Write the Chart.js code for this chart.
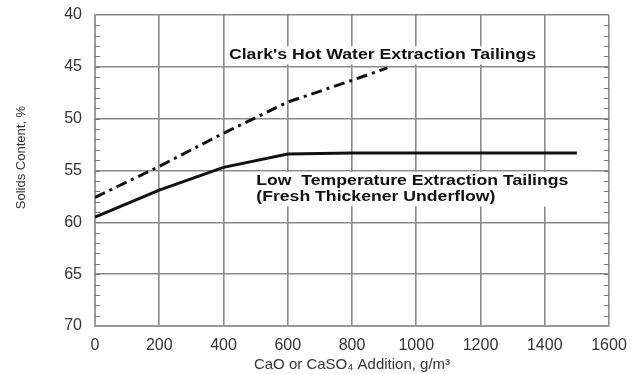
<!DOCTYPE html>
<html>
<head>
<meta charset="utf-8">
<script src="https://cdn.jsdelivr.net/npm/chart.js@4.4.1/dist/chart.umd.min.js"></script>
<style>
  html, body { margin: 0; padding: 0; background: #fff; }
  #wrap { width: 638px; height: 374px; }
</style>
</head>
<body>
<div id="wrap"><canvas id="solids-chart" width="638" height="374"></canvas></div>
<script>
// values
const clarkX = [0, 200, 400, 600, 800, 910];
const clarkY = [57.6, 54.6, 51.4, 48.4, 46.3, 45.1];
const lowTempX = [0, 200, 400, 600, 800, 1000, 1500];
const lowTempY = [59.5, 56.9, 54.7, 53.4, 53.3, 53.3, 53.3];
const xTicks = [0, 200, 400, 600, 800, 1000, 1200, 1400, 1600];
const yTicks = [40, 45, 50, 55, 60, 65, 70];

const FONT = '"Liberation Sans", Arial, sans-serif';
const toPoints = (xs, ys) => xs.map((x, i) => ({ x: x, y: ys[i] }));

// the source image is a bit stretched sideways, so the labels get a wider draw
const STRETCH = 1.26;

function boxedText(ctx, lines, x, y, lineGap, align, boxRight) {
    ctx.save();
    ctx.font = 'bold 14px ' + FONT;
    ctx.textBaseline = 'middle';
    const w = Math.max(...lines.map(t => ctx.measureText(t).width)) * STRETCH;
    const left = align === 'center' ? x - w / 2 : x;
    const right = boxRight !== undefined ? boxRight : left + w;
    ctx.fillStyle = '#fff';
    ctx.fillRect(left - 3, y - 9, right - left + 6, lineGap * (lines.length - 1) + 18);
    ctx.fillStyle = '#111';
    ctx.translate(left, y);
    ctx.scale(STRETCH, 1);
    ctx.textAlign = 'left';
    lines.forEach((t, i) => ctx.fillText(t, 0, i * lineGap));
    ctx.restore();
}

// small inside ticks on both y borders + the boxed curve labels
const extrasPlugin = {
    id: 'extras',
    afterDatasetsDraw(chart) {
        const ctx = chart.ctx;
        const xs = chart.scales.x;
        const ys = chart.scales.y;
        const area = chart.chartArea;

        ctx.save();
        ctx.strokeStyle = '#777';
        ctx.lineWidth = 1.2;
        for (let v = 41; v < 70; v++) {
            const py = Math.round(ys.getPixelForValue(v)) + 0.5;
            ctx.beginPath();
            ctx.moveTo(area.left, py);
            ctx.lineTo(area.left + 5, py);
            ctx.moveTo(area.right, py);
            ctx.lineTo(area.right - 5, py);
            ctx.stroke();
        }
        ctx.restore();

        boxedText(ctx, ["Clark's Hot Water Extraction Tailings"],
            xs.getPixelForValue(895), ys.getPixelForValue(43.9), 0, 'center');

        const ly1 = ys.getPixelForValue(56.0);
        const ly2 = ys.getPixelForValue(57.6);
        boxedText(ctx, ['Low  Temperature Extraction Tailings', '(Fresh Thickener Underflow)'],
            xs.getPixelForValue(502), ly1, ly2 - ly1, 'left', xs.getPixelForValue(1540));
    }
};

const ctx = document.getElementById('solids-chart');
new Chart(ctx, {
    type: 'line',
    data: {
        datasets: [
            {
                label: "Clark's Hot Water Extraction Tailings",
                data: toPoints(clarkX, clarkY),
                borderColor: '#111',
                borderWidth: 3,
                borderDash: [11, 5, 3, 5],
                pointRadius: 0,
                fill: false,
                tension: 0
            },
            {
                label: 'Low Temperature Extraction Tailings',
                data: toPoints(lowTempX, lowTempY),
                borderColor: '#111',
                borderWidth: 3,
                pointRadius: 0,
                fill: false,
                tension: 0
            }
        ]
    },
    options: {
        responsive: false,
        animation: false,
        layout: { padding: { top: 15, right: 29, left: 0, bottom: 0 } },
        plugins: {
            legend: { display: false },
            tooltip: { enabled: false }
        },
        scales: {
            x: {
                type: 'linear',
                min: 0,
                max: 1600,
                afterBuildTicks: (scale) => { scale.ticks = xTicks.map(v => ({ value: v })); },
                afterFit: (scale) => { scale.height = 48; },
                grid: { color: '#8a8a8a', lineWidth: 1.6, drawTicks: false },
                border: { color: '#999', width: 2 },
                ticks: {
                    padding: 10,
                    color: '#333',
                    callback: (v) => String(v),
                    font: { family: FONT, size: 16 }
                },
                title: {
                    display: true,
                    text: 'CaO or CaSO\u2084 Addition, g/m\u00b3',
                    color: '#333',
                    padding: { top: 2, bottom: 0 },
                    font: { family: FONT, size: 15 }
                }
            },
            y: {
                reverse: true,
                min: 40,
                max: 70,
                afterBuildTicks: (scale) => { scale.ticks = yTicks.map(v => ({ value: v })); },
                afterFit: (scale) => {
                    scale.width = 95;
                    scale.paddingTop = 0;
                    scale.paddingBottom = 0;
                },
                grid: { color: '#8a8a8a', lineWidth: 1.6, drawTicks: false },
                border: { color: '#999', width: 2 },
                ticks: {
                    padding: 13,
                    color: '#333',
                    font: { family: FONT, size: 16 }
                },
                title: {
                    display: true,
                    text: '\u2003\u2003Solids Content, %',
                    color: '#333',
                    padding: { top: 14, bottom: 0 },
                    font: { family: FONT, size: 13 }
                }
            }
        }
    },
    plugins: [extrasPlugin]
});
</script>
</body>
</html>
